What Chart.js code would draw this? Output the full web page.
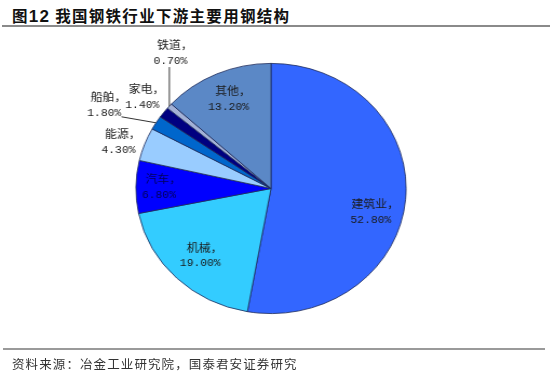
<!DOCTYPE html>
<html>
<head>
<meta charset="utf-8">
<script src="https://cdn.jsdelivr.net/npm/chart.js@4/dist/chart.umd.min.js"></script>
<style>
  body { margin: 0; width: 550px; height: 376px; background: #fff; position: relative; overflow: hidden; font-family: "Noto Sans CJK SC", sans-serif; }
  #title { position: absolute; left: 12px; top: 4px; font-size: 15.5px; font-weight: bold; color: #111; letter-spacing: 1.3px; white-space: nowrap; }
  #title b { font-family: "Liberation Sans", Arial, sans-serif; font-size: 17px; }
  #topline { position: absolute; left: 2px; right: 0; top: 25px; height: 2px; background: #8a8a8a; }
  #botline { position: absolute; left: 3px; right: 5px; top: 348px; height: 2px; background: #9a9a9a; }
  #source { position: absolute; left: 12px; top: 354px; font-size: 12.5px; color: #333; letter-spacing: 1.1px; white-space: nowrap; }
  #wrap { position: absolute; left: 71px; top: 28px; width: 400px; height: 321px; transform: scaleX(1.08); transform-origin: 50% 50%; }
</style>
</head>
<body>
<div id="title">图<b>12</b> 我国钢铁行业下游主要用钢结构</div>
<div id="topline"></div>
<div id="wrap"><canvas id="pie"></canvas></div>
<div id="botline"></div>
<div id="source">资料来源：冶金工业研究院，国泰君安证券研究</div>
<script>
// 数据
const categories = ['建筑业', '机械', '汽车', '能源', '船舶', '家电', '铁道', '其他'];
const shares = [52.8, 19.0, 6.8, 4.3, 1.8, 1.4, 0.7, 13.2];
const sliceColors = ['#3366FF', '#33CCFF', '#0000FF', '#99CCFF', '#0066CC', '#000080', '#A3B1D6', '#5B88C6'];

// 标签摆放：半径系数 + 偏移；带引导线的标签相对扇区外缘点偏移
const labelPlace = [
  { f: 0.75, dx: -1, dy: 15 },
  { f: 0.75, dx: 0, dy: 0 },
  { f: 0.83, dx: 0, dy: 0, color: '#00005a' },
  { f: 1.19, dx: -2, dy: 6 },
  { f: 1.0, dx: -48, dy: -18, leader: 'toLabel' },
  { f: 1.20, dx: 0, dy: 0 },
  { f: 1.0, dx: 1, dy: -53, leader: 'vertical' },
  { f: 0.78, dx: 0, dy: 0 }
];

const pieLabels = {
  id: 'pieLabels',
  afterDatasetsDraw(chart) {
    const ctx = chart.ctx;
    const arcs = chart.getDatasetMeta(0).data;
    ctx.save();
    arcs.forEach((arc, i) => {
      const p = labelPlace[i];
      const mid = (arc.startAngle + arc.endAngle) / 2;
      const r = arc.outerRadius;
      const cx = arc.x + Math.cos(mid) * r * p.f + p.dx;
      const cy = arc.y + Math.sin(mid) * r * p.f + p.dy;
      const ex = arc.x + Math.cos(mid) * r;
      const ey = arc.y + Math.sin(mid) * r;
      ctx.strokeStyle = '#333';
      ctx.lineWidth = 1;
      if (p.leader === 'vertical') {
        ctx.beginPath();
        ctx.moveTo(ex, ey);
        ctx.lineTo(ex, cy + 14);
        ctx.stroke();
      } else if (p.leader === 'toLabel') {
        ctx.beginPath();
        ctx.moveTo(ex, ey);
        ctx.lineTo(cx + 16, cy + 12);
        ctx.stroke();
      }
      ctx.fillStyle = p.color || '#1a1a1a';
      ctx.textAlign = 'center';
      ctx.textBaseline = 'middle';
      ctx.font = '11px "Noto Sans CJK SC"';
      ctx.fillText(categories[i] + '，', cx + 4, cy - 8);
      ctx.font = '10.5px "Liberation Mono"';
      ctx.fillText(shares[i].toFixed(2) + '%', cx, cy + 8);
    });
    ctx.restore();
  }
};

new Chart(document.getElementById('pie'), {
  type: 'pie',
  data: {
    labels: categories,
    datasets: [{
      data: shares,
      backgroundColor: sliceColors,
      borderColor: '#1c2a5a',
      borderWidth: 0.8
    }]
  },
  options: {
    responsive: true,
    maintainAspectRatio: false,
    animation: false,
    layout: { padding: { top: 35, bottom: 35 } },
    plugins: {
      legend: { display: false },
      tooltip: { enabled: false }
    }
  },
  plugins: [pieLabels]
});
</script>
</body>
</html>
